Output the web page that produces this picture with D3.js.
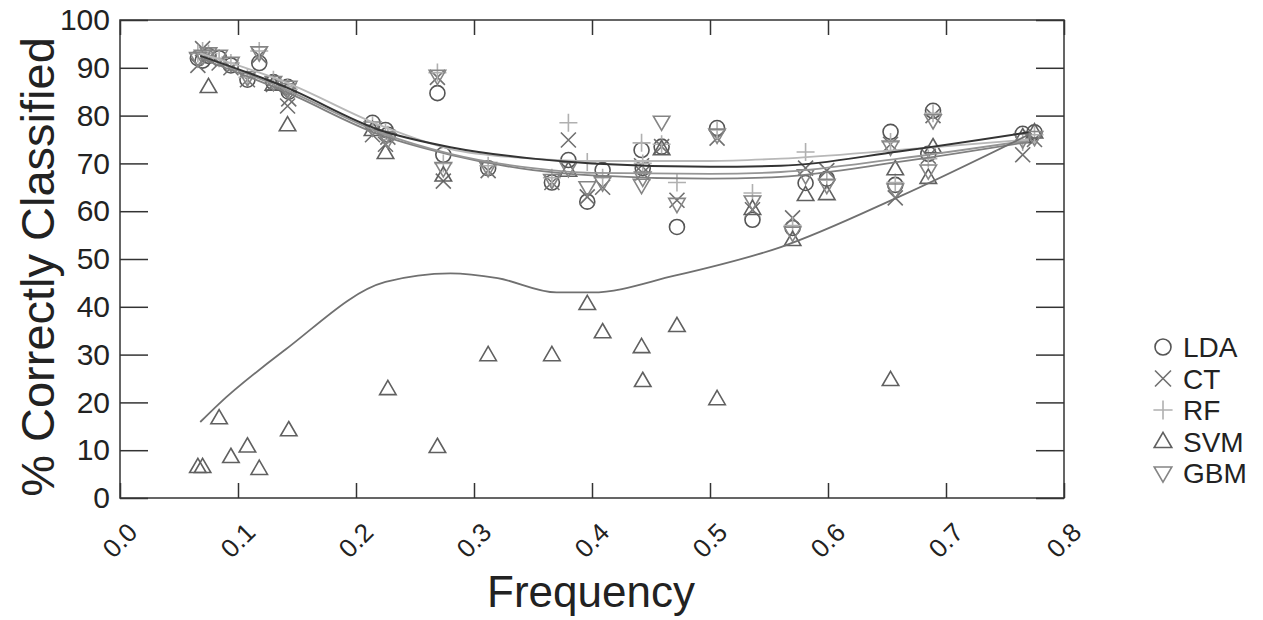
<!DOCTYPE html>
<html>
<head>
<meta charset="utf-8">
<script src="https://cdn.jsdelivr.net/npm/d3@7"></script>
<style>
  body { margin: 0; background: #fff; }
  svg { font-family: "Liberation Sans", Arial, Helvetica, sans-serif; }
</style>
</head>
<body>
<div id="chart"></div>
<script>
// one entry per data set: frequency and % correctly classified per method
const frequency = [0.066, 0.070, 0.075, 0.084, 0.094, 0.108, 0.118, 0.130, 0.142, 0.143,
  0.214, 0.225, 0.227, 0.269, 0.274, 0.312, 0.366, 0.380, 0.396, 0.409,
  0.442, 0.443, 0.459, 0.472, 0.506, 0.536, 0.570, 0.581, 0.599, 0.653,
  0.657, 0.685, 0.689, 0.765, 0.775];
const lda = [92, 91.5, 92.5, 92, 90.5, 87.5, 91, 87, 86, 85,
  78.5, 77, 76, 84.7, 71.8, 69, 66, 70.7, 62, 68.6,
  72.8, 69, 73.5, 56.7, 77.4, 58.2, 56.5, 65.9, 66.8, 76.6,
  65.5, 72, 81, 76.2, 76.5];
const ct = [90.5, 94, 92, 91, 90, 87.5, 92.5, 86.5, 82, 83.5,
  76, 74, 75.5, 88, 66.3, 68.5, 66, 74.9, 63, 65,
  69.5, 68, 73.5, 62.3, 75.3, 60.3, 58.6, 69, 68.5, 74,
  62.8, 71.5, 80, 71.8, 75];
const rf = [93, 93.5, 93, 92, 91, 88, 93.5, 87.5, 86, 85.5,
  78, 76.5, 76, 89, 70, 69.5, 67, 78.5, 70.3, 67,
  74.3, 70, 74, 66, 77, 63.8, 57, 72.4, 66.5, 74.5,
  66, 71, 80.5, 74.5, 76];
const svm = [6.5, 6.5, 86, 16.7, 8.6, 10.8, 6.1, 86.5, 78, 14.2,
  77, 72.2, 22.8, 10.7, 67.5, 29.9, 29.9, 68.5, 40.6, 34.7,
  31.6, 24.5, 73, 36, 20.7, 60.5, 54, 63.4, 63.6, 24.7,
  68.8, 67, 73.4, 75.5, 76.5];
const gbm = [92, 92.5, 93, 92.5, 91, 88, 93.2, 87, 85.5, 86,
  77.5, 75.5, 75, 88.3, 69, 69, 66.5, 69, 65, 66,
  65.5, 67, 78.7, 61.5, 76, 62, 55.5, 67.5, 65.5, 73.5,
  64.5, 68.5, 79, 75, 75.5];

// smoothed fits
const fitX = [0.068, 0.14, 0.22, 0.28, 0.35, 0.40, 0.50, 0.56, 0.66, 0.77];
const fitLDA = [92.5, 86, 77, 73.4, 71, 70, 69.3, 69.5, 72.5, 76.5];
const fitCT = [92, 85, 76, 71.8, 68.6, 67.5, 66.8, 67.2, 70.3, 74.5];
const fitRF = [93, 87, 78, 73, 71, 70.5, 70.5, 71, 72.8, 75];
const fitGBM = [92.5, 85.5, 76.5, 72, 69, 68, 67.8, 68.2, 71, 74.8];
const fitSvmX = [0.068, 0.083, 0.14, 0.225, 0.28, 0.32, 0.37, 0.40, 0.47, 0.56, 0.66, 0.77];
const fitSVM = [15.9, 19.5, 31, 45.2, 47, 46, 43, 43, 46.5, 52.5, 63, 76];

const methods = ['LDA', 'CT', 'RF', 'SVM', 'GBM'];
const xTicks = [0, 0.1, 0.2, 0.3, 0.4, 0.5, 0.6, 0.7, 0.8];
const xTickLabels = ['0.0', '0.1', '0.2', '0.3', '0.4', '0.5', '0.6', '0.7', '0.8'];
const yTicks = [0, 10, 20, 30, 40, 50, 60, 70, 80, 90, 100];

const W = 1263, H = 620;
const margin = { top: 20, right: 199, bottom: 122, left: 120 };
const width = W - margin.left - margin.right;
const height = H - margin.top - margin.bottom;

const x = d3.scaleLinear().domain([0, 0.8]).range([0, width]);
const y = d3.scaleLinear().domain([0, 100]).range([height, 0]);

const svg = d3.select('#chart').append('svg')
  .attr('width', W).attr('height', H);
const g = svg.append('g')
  .attr('transform', `translate(${margin.left},${margin.top})`);

// marker shapes, drawn as outlines
const shapes = {
  LDA: r => `M${r},0A${r},${r} 0 1,1 ${-r},0A${r},${r} 0 1,1 ${r},0Z`,
  CT: r => `M${-r},${-r}L${r},${r}M${-r},${r}L${r},${-r}`,
  RF: r => `M${-r * 1.2},0L${r * 1.2},0M0,${-r * 1.2}L0,${r * 1.2}`,
  SVM: r => `M0,${-r * 1.15}L${r * 1.1},${r * 0.75}L${-r * 1.1},${r * 0.75}Z`,
  GBM: r => `M0,${r * 1.15}L${r * 1.1},${-r * 0.75}L${-r * 1.1},${-r * 0.75}Z`
};
const markColor = { LDA: '#555', CT: '#707070', RF: '#b0b0b0', SVM: '#606060', GBM: '#858585' };
const fitColor = { LDA: '#333', CT: '#808080', RF: '#b8b8b8', SVM: '#707070', GBM: '#959595' };
const values = { LDA: lda, CT: ct, RF: rf, SVM: svm, GBM: gbm };

// frame and inward ticks on all four sides
g.append('rect').attr('width', width).attr('height', height)
  .attr('fill', 'none').attr('stroke', '#333').attr('stroke-width', 1.5);

const bottomAxis = g.append('g').attr('transform', `translate(0,${height})`)
  .call(d3.axisBottom(x).tickValues(xTicks).tickSize(-15).tickFormat(''));
const topAxis = g.append('g')
  .call(d3.axisTop(x).tickValues(xTicks).tickSize(-15).tickFormat(''));
const leftAxis = g.append('g')
  .call(d3.axisLeft(y).tickValues(yTicks).tickSize(-28).tickPadding(10));
const rightAxis = g.append('g').attr('transform', `translate(${width},0)`)
  .call(d3.axisRight(y).tickValues(yTicks).tickSize(-28).tickFormat(''));

[bottomAxis, topAxis, leftAxis, rightAxis].forEach(a => {
  a.select('.domain').remove();
  a.selectAll('line').attr('stroke', '#333').attr('stroke-width', 1.5);
});
leftAxis.selectAll('text')
  .style('font-size', '30px').attr('fill', '#222');

g.selectAll('.xlab')
  .data(xTicks)
  .join('text')
  .attr('class', 'xlab')
  .attr('transform', d => `translate(${x(d) + 19},${height + 36}) rotate(-45)`)
  .attr('text-anchor', 'end')
  .style('font-size', '26px')
  .attr('fill', '#222')
  .text((d, i) => xTickLabels[i]);

// axis titles
svg.append('text')
  .attr('x', 591).attr('y', 607)
  .attr('text-anchor', 'middle')
  .style('font-size', '44px').attr('fill', '#222')
  .text('Frequency');

svg.append('text')
  .attr('transform', `translate(54,${margin.top + height / 2 + 8}) rotate(-90)`)
  .attr('text-anchor', 'middle')
  .style('font-size', '47px').attr('fill', '#222')
  .text('% Correctly Classified');

// points
methods.forEach(m => {
  g.append('g').selectAll('path')
    .data(frequency.map((f, i) => [f, values[m][i]]))
    .join('path')
    .attr('transform', d => `translate(${x(d[0])},${y(d[1])})`)
    .attr('d', shapes[m](7.5))
    .attr('fill', 'none')
    .attr('stroke', markColor[m])
    .attr('stroke-width', 1.6);
});

// fitted curves
const fits = [
  ['CT', fitX, fitCT], ['GBM', fitX, fitGBM], ['RF', fitX, fitRF],
  ['LDA', fitX, fitLDA], ['SVM', fitSvmX, fitSVM]
];
fits.forEach(([m, xs, ys]) => {
  g.append('path')
    .datum(xs.map((v, i) => [v, ys[i]]))
    .attr('d', d3.line().x(d => x(d[0])).y(d => y(d[1])).curve(d3.curveMonotoneX))
    .attr('fill', 'none')
    .attr('stroke', fitColor[m])
    .attr('stroke-width', m === 'LDA' ? 2 : 1.8);
});

// legend
const legend = svg.append('g').attr('transform', 'translate(1163,347)');
methods.forEach((m, i) => {
  const row = legend.append('g').attr('transform', `translate(0,${i * 31.5})`);
  row.append('path')
    .attr('d', shapes[m](8))
    .attr('fill', 'none')
    .attr('stroke', markColor[m])
    .attr('stroke-width', 1.6);
  row.append('text')
    .attr('x', 20).attr('dy', '0.36em')
    .style('font-size', '28px').attr('fill', '#222')
    .text(m);
});
</script>
</body>
</html>
